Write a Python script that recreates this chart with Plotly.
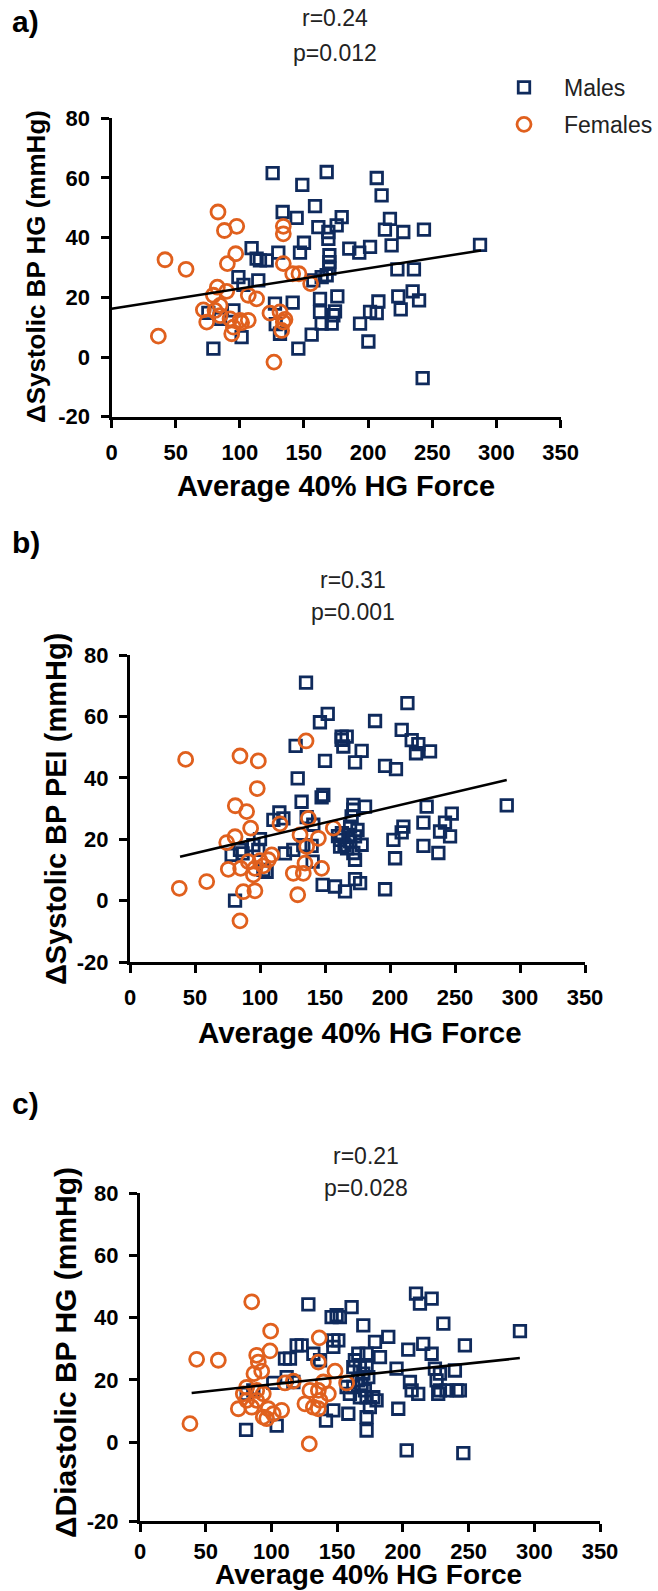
import plotly.graph_objects as go

# ---------------- data ----------------
a_male_x = [125.6, 148.7, 133.4, 144.3, 150.0, 109.2, 130.0, 113.1, 115.7, 120.9, 146.9, 98.9, 114.4, 145.6,
            79.4, 101.4, 131.3, 141.2, 127.4, 75.5, 84.6, 95.0, 102.8, 128.0,
            167.7, 206.7, 210.5, 158.6, 179.4, 175.5, 169.0, 169.0, 161.2, 217.0, 213.1, 227.4, 243.5, 218.3,
            185.3, 193.1, 201.5, 169.8, 169.8, 169.8, 167.7, 287.2, 222.8, 235.7, 157.3, 163.8, 223.5, 234.7,
            239.7, 225.4, 176.0, 162.5, 208.0, 201.5, 206.7, 193.7, 174.2, 172.9, 171.6, 163.8, 162.5, 156.0,
            200.2, 242.5]
a_male_y = [61.6, 57.7, 48.6, 46.6, 38.3, 36.5, 35.0, 33.0, 32.4, 32.4, 35.0, 26.8, 25.7, 2.8,
            2.8, 6.7, 7.8, 18.2, 17.9, 14.8, 12.8, 15.6, 24.2, 11.0,
            62.0, 60.0, 54.2, 50.6, 46.9, 44.1, 41.9, 39.6, 43.5, 46.3, 42.7, 41.9, 42.7, 37.4,
            36.3, 35.0, 36.9, 34.1, 31.8, 29.6, 27.4, 37.6, 29.4, 29.4, 25.7, 26.8, 20.3, 22.0,
            19.0, 16.0, 20.3, 19.5, 18.6, 15.1, 14.7, 11.2, 15.3, 14.0, 11.2, 11.2, 15.1, 7.5,
            5.2, -7.1]
a_female_x = [83.0, 88.0, 97.6, 41.7, 58.1, 96.8, 90.3, 133.9, 133.9, 133.9, 141.2, 146.1, 155.2, 82.5,
              89.8, 79.4, 106.6, 113.1, 71.6, 80.7, 74.2, 84.6, 92.4, 95.0, 93.7, 101.4, 106.6, 123.5,
              131.3, 135.2, 132.6, 36.5, 126.6, 84.6, 100.2, 133.9]
a_female_y = [48.6, 42.4, 43.8, 32.6, 29.4, 34.6, 31.3, 43.8, 41.3, 31.3, 27.9, 27.9, 24.6, 23.4,
              22.0, 20.7, 20.7, 19.5, 15.8, 15.6, 11.7, 13.9, 12.8, 10.0, 7.8, 11.5, 12.3, 14.7,
              15.1, 12.6, 8.9, 7.0, -1.7, 17.3, 12.3, 11.7]
a_fit_x = [0, 288]
a_fit_y = [16.2, 35.7]

b_male_x = [135.4, 146.1, 127.4, 129.0, 132.0, 147.4, 114.9, 110.3, 118.0, 100.0, 94.9, 84.6, 78.2,
            119.2, 125.6, 133.3, 139.7, 140.5, 105.1, 148.2, 80.8, 86.6, 98.7, 102.6, 135.9, 141.0, 150.0,
            213.4, 152.1, 188.5, 209.0, 216.7, 221.8, 220.0, 230.8, 162.8, 162.8, 166.7, 164.1, 178.2,
            173.1, 196.2, 204.6, 148.7, 171.8, 180.8, 171.8, 170.5, 169.3, 168.0, 161.6, 161.6, 169.3,
            173.1, 178.2, 171.8, 173.1, 228.2, 247.5, 225.7, 242.3, 210.3, 209.0, 238.5, 246.2, 202.6,
            225.7, 237.2, 203.9, 289.8, 157.7, 165.4, 173.1, 177.0, 196.2, 165.0, 163.0, 167.0, 160.0, 175.0]
b_male_y = [71.0, 58.1, 50.4, 39.8, 32.2, 33.6, 28.7, 26.3, 26.8, 20.0, 18.1, 16.5, 14.9,
            15.4, 16.5, 18.1, 17.8, 12.7, 9.4, 5.1, 0.0, 15.4, 16.5, 10.0, 27.2, 24.7, 45.5,
            64.3, 60.8, 58.5, 55.6, 52.3, 51.0, 48.0, 48.6, 53.4, 52.4, 53.4, 50.2, 48.8,
            45.0, 43.9, 42.8, 34.4, 31.2, 30.6, 29.6, 27.4, 24.1, 21.4, 19.8, 17.6, 19.3,
            20.9, 18.2, 15.5, 13.3, 30.6, 28.3, 25.4, 25.4, 24.1, 22.2, 22.5, 20.9, 19.8,
            17.8, 15.5, 13.8, 31.0, 4.6, 3.0, 7.0, 5.7, 3.7, 18.0, 22.0, 17.0, 21.0, 23.0]
b_female_x = [42.8, 84.6, 98.7, 97.9, 135.4, 81.0, 89.7, 92.8, 80.8, 74.4, 115.4, 137.2, 130.8, 144.9,
              156.4, 135.9, 134.6, 125.6, 133.3, 147.4, 129.0, 75.6, 85.1, 91.0, 96.1, 94.9, 102.6,
              106.4, 109.0, 87.2, 96.1, 84.6, 59.0, 37.9, 100.0]
b_female_y = [46.0, 47.1, 45.5, 36.5, 52.0, 30.9, 29.0, 23.6, 20.8, 18.9, 25.0, 26.8, 21.4, 20.3,
              23.6, 17.6, 12.2, 8.9, 8.9, 10.5, 1.9, 10.2, 10.5, 12.7, 10.5, 8.4, 11.3,
              13.3, 14.9, 2.9, 3.2, -6.6, 6.2, 4.0, 13.0]
b_fit_x = [38.5, 289.8]
b_fit_y = [14.3, 39.3]

c_male_x = [128.1, 80.7, 104.0, 114.1, 110.3, 119.2, 111.6, 116.7, 101.4, 81.2, 86.2, 131.9, 137.0,
            141.5, 123.0, 145.8, 149.6, 152.1, 161.0, 169.9, 210.0, 213.0, 221.9, 230.8, 188.9, 178.8,
            147.1, 150.9, 147.1, 247.2, 289.1, 204.1, 215.5, 221.9, 182.6, 172.4, 166.1, 163.5, 162.3,
            167.3, 172.4, 169.9, 166.1, 168.6, 173.7, 171.1, 167.3, 172.4, 177.5, 180.0, 174.9, 195.2,
            224.4, 228.2, 239.6, 225.7, 228.2, 233.3, 240.9, 243.4, 226.9, 205.4, 206.7, 211.7, 157.2,
            162.3, 159.7, 147.1, 158.5, 196.5, 172.4, 172.4, 202.9, 246.0]
c_male_y = [44.3, 3.9, 5.3, 26.8, 26.8, 31.1, 20.9, 19.3, 19.0, 15.5, 16.6, 28.4, 26.3,
            6.9, 31.1, 40.2, 40.8, 40.2, 43.4, 37.5, 47.7, 44.5, 46.1, 38.1, 33.8, 32.2,
            32.7, 32.7, 30.6, 31.1, 35.7, 29.7, 31.6, 28.4, 27.3, 28.4, 28.4, 26.3, 24.1,
            24.1, 24.1, 22.0, 19.8, 18.7, 20.9, 16.6, 14.4, 14.4, 14.4, 13.4, 11.2, 23.6,
            23.6, 22.0, 23.0, 19.8, 16.6, 16.6, 16.6, 16.6, 15.5, 19.3, 16.6, 15.5, 17.7,
            17.7, 15.5, 10.2, 9.1, 10.7, 8.0, 3.7, -2.7, -3.6]
c_female_x = [85.0, 99.4, 136.4, 43.1, 59.6, 88.8, 90.0, 98.9, 86.7, 92.6, 135.7, 148.4, 157.2, 110.3,
              116.7, 81.2, 88.8, 74.8, 81.2, 85.0, 93.8, 97.6, 101.4, 107.8, 88.8, 93.8, 96.4, 125.5,
              131.9, 135.7, 137.0, 135.7, 143.3, 38.0, 128.8, 78.6, 129.3, 139.5]
c_female_y = [45.1, 35.7, 33.5, 26.6, 26.3, 27.9, 25.7, 29.3, 22.0, 22.8, 25.7, 22.8, 19.0, 19.0,
              19.6, 17.6, 16.6, 10.7, 13.4, 11.2, 15.5, 10.7, 9.1, 10.2, 13.4, 8.0, 7.5, 12.3,
              11.2, 16.6, 13.4, 10.7, 15.5, 5.9, -0.6, 15.5, 16.6, 19.3]
c_fit_x = [39.3, 289.0]
c_fit_y = [15.8, 27.0]

x_ticks = [0, 50, 100, 150, 200, 250, 300, 350]
y_ticks = [-20, 0, 20, 40, 60, 80]
stats_text = [("r=0.24", "p=0.012"), ("r=0.31", "p=0.001"), ("r=0.21", "p=0.028")]
y_titles = ["ΔSystolic BP HG (mmHg)", "ΔSystolic BP PEI (mmHg)", "ΔDiastolic BP HG (mmHg)"]
x_title = "Average 40% HG Force"
panel_labels = ["a)", "b)", "c)"]

# ---------------- layout geometry (pixels) ----------------
W, H = 658, 1591
NAVY = "#0f2a5c"
ORANGE = "#e0601e"
FONT = "Liberation Sans, Arial, Helvetica, sans-serif"

def fx(px):
    return px / W

def fy(py):
    return 1 - py / H

# per panel: x0_px, x350_px, ytop_px(80), ybottom_px(axis), ybottom value, x-label standoff
panels = [
    dict(x0=111.5, x1=560.6, ytop=118.3, ybot=416.7, ymin=-20, xstand=6),
    dict(x0=130.0, x1=585.0, ytop=655.0, ybot=962.0, ymin=-20, xstand=6),
    dict(x0=140.0, x1=600.0, ytop=1193.3, ybot=1521.0, ymin=-25.4, xstand=1),
]

data_sets = [
    (a_male_x, a_male_y, a_female_x, a_female_y, a_fit_x, a_fit_y),
    (b_male_x, b_male_y, b_female_x, b_female_y, b_fit_x, b_fit_y),
    (c_male_x, c_male_y, c_female_x, c_female_y, c_fit_x, c_fit_y),
]

fig = go.Figure()
layout = dict(template="none", width=W, height=H, margin=dict(l=0, r=0, t=0, b=0, pad=0),
              paper_bgcolor="white", plot_bgcolor="white", showlegend=True,
              font=dict(family=FONT, color="black"))

for i, (p, d) in enumerate(zip(panels, data_sets)):
    k = "" if i == 0 else str(i + 1)
    xa, ya = "x" + k, "y" + k
    mx, my, fxs, fys, lx, ly = d
    fig.add_trace(go.Scatter(x=mx, y=my, mode="markers", name="Males", xaxis=xa, yaxis=ya,
                             legendgroup="m", showlegend=(i == 0),
                             marker=dict(symbol="square-open", size=11.5, color=NAVY,
                                         line=dict(width=2.8, color=NAVY))))
    fig.add_trace(go.Scatter(x=fxs, y=fys, mode="markers", name="Females", xaxis=xa, yaxis=ya,
                             legendgroup="f", showlegend=(i == 0),
                             marker=dict(symbol="circle-open", size=14, color=ORANGE,
                                         line=dict(width=2.8, color=ORANGE))))
    fig.add_trace(go.Scatter(x=lx, y=ly, mode="lines", xaxis=xa, yaxis=ya, showlegend=False,
                             line=dict(color="black", width=2.5), hoverinfo="skip"))

    yvals = [p["ymin"]] + y_ticks[1:]
    axis_common = dict(showline=True, linewidth=3, linecolor="black", ticks="outside", ticklen=8,
                       tickwidth=3, tickcolor="black", showgrid=False, zeroline=False,
                       automargin=False,
                       tickfont=dict(family=FONT, size=22, color="black", weight="bold"))
    layout["xaxis" + k] = dict(axis_common, domain=[fx(p["x0"]), fx(p["x1"])], range=[0, 350],
                               tickvals=x_ticks, anchor=ya, ticklabelstandoff=p["xstand"])
    layout["yaxis" + k] = dict(axis_common, domain=[fy(p["ybot"]), fy(p["ytop"])],
                               range=[p["ymin"], 80], tickvals=yvals,
                               ticktext=[str(v) for v in y_ticks], anchor=xa, ticklabelstandoff=6)

annotations = []
# panel labels
for lab, py in zip(panel_labels, [22, 543, 1103]):
    annotations.append(dict(text="<b>%s</b>" % lab, x=fx(10), y=fy(py), xref="paper", yref="paper",
                            xanchor="left", yanchor="middle", showarrow=False,
                            font=dict(family=FONT, size=30, color="black")))
# statistics
for (r, pv), cx, ry, pyy in zip(stats_text, [335, 353, 366], [18, 580, 1156], [53, 612, 1188]):
    for t, yy in ((r, ry), (pv, pyy)):
        annotations.append(dict(text=t, x=fx(cx), y=fy(yy), xref="paper", yref="paper",
                                xanchor="center", yanchor="middle", showarrow=False,
                                font=dict(family=FONT, size=23, color="#222222")))
# y titles
for t, cx, cy, fs in zip(y_titles, [36, 56, 65], [267, 809, 1353], [26, 29, 30]):
    annotations.append(dict(text="<b>%s</b>" % t, x=fx(cx), y=fy(cy), xref="paper", yref="paper",
                            xanchor="center", yanchor="middle", textangle=-90, showarrow=False,
                            font=dict(family=FONT, size=fs, color="black")))
# x titles (last one anchored to the bottom edge of the figure)
x_title_pos = [(336, 486, 29, "middle"), (360, 1032, 29.5, "middle"), (368, 1591, 28, "bottom")]
for cx, cy, fs, anc in x_title_pos:
    annotations.append(dict(text="<b>%s</b>" % x_title, x=fx(cx), y=fy(cy), xref="paper", yref="paper",
                            xanchor="center", yanchor=anc, showarrow=False, borderpad=0,
                            font=dict(family=FONT, size=fs, color="black")))

layout["annotations"] = annotations
layout["legend"] = dict(x=1.0, y=fy(66), xanchor="right", yanchor="top", traceorder="grouped",
                        tracegroupgap=4, itemwidth=70, bgcolor="rgba(0,0,0,0)", borderwidth=0,
                        font=dict(family=FONT, size=23, color="#222222"))
fig.update_layout(**layout)
fig.write_html("out.html")
